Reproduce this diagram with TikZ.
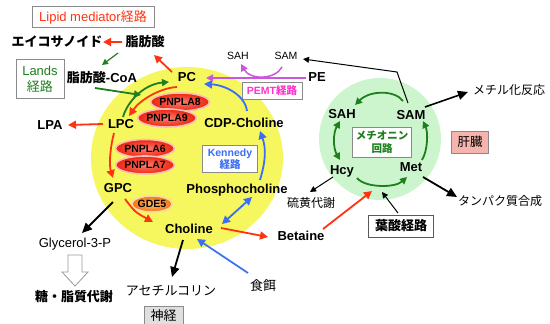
\documentclass[tikz,border=0pt]{standalone}
\usepackage{fontspec}
\setmainfont{Liberation Sans}
\newfontfamily\jpf{Noto Sans CJK JP}
\usetikzlibrary{arrows.meta,shapes.geometric,calc}
\definecolor{redc}{HTML}{FF3311}
\definecolor{grc}{HTML}{1E7F1E}
\definecolor{bluc}{HTML}{3A6EF5}
\definecolor{magc}{HTML}{CC55DD}
\definecolor{pemtc}{HTML}{FF33CC}
\definecolor{yelc}{HTML}{F6F65E}
\definecolor{lgrc}{HTML}{CDF5CD}
\definecolor{pinkc}{HTML}{F5B5AD}
\definecolor{boxc}{HTML}{8A8A8A}
\begin{document}
\begin{tikzpicture}[x=1pt,y=-1pt,
  bl/.style={font=\fontsize{13}{15}\selectfont\bfseries, inner sep=1pt},
  nl/.style={font=\fontsize{12}{14}\selectfont, inner sep=1pt},
  sl/.style={font=\fontsize{10.5}{12}\selectfont, inner sep=1pt},
  gbox/.style={draw=boxc, line width=0.8pt, fill=white, inner sep=1pt, align=center},
  pn/.style={ellipse, draw={rgb,255:red,255;green,190;blue,180}, line width=1.6pt, inner color={rgb,255:red,255;green,125;blue,110}, outer color={rgb,255:red,235;green,35;blue,15}, minimum width=52pt, minimum height=18pt, inner sep=0pt, font=\fontsize{10.5}{11}\selectfont\bfseries},
  ra/.style={draw=redc, line width=1.8pt, -{Triangle[length=8pt,width=8pt]}},
  ga/.style={draw=grc, line width=1.8pt, -{Triangle[length=7pt,width=7pt]}},
  gda/.style={draw=grc, line width=1.8pt, {Triangle[length=7pt,width=7pt]}-{Triangle[length=7pt,width=7pt]}},
  ba/.style={draw=bluc, line width=1.8pt, -{Triangle[length=8pt,width=8pt]}},
  bda/.style={draw=bluc, line width=1.8pt, {Triangle[length=8pt,width=8pt]}-{Triangle[length=8pt,width=8pt]}},
  ma/.style={draw=magc, line width=1.5pt, -{Triangle[length=7pt,width=7pt]}},
  ka/.style={draw=black, line width=1.8pt, -{Triangle[length=10pt,width=9pt]}},
  kt/.style={draw=black, line width=1pt, -{Triangle[length=6pt,width=6pt]}}
]
\useasboundingbox (0,0) rectangle (550,324);
% background circles
\fill[yelc] (187,158) ellipse [x radius=96, y radius=91];
\fill[lgrc] (380,139) circle [radius=61];

% top-left
\node[gbox, minimum width=122pt, minimum height=21pt, text=redc, font=\fontsize{13}{15}\selectfont] (lipid) at (93,17) {Lipid mediator{\jpf 経路}};
\node[bl] (eico) at (57,42) {\jpf エイコサノイド};
\node[bl] (fa) at (145,42) {\jpf 脂肪酸};
\node[gbox, minimum width=48pt, minimum height=39pt, text=grc, font=\fontsize{13}{16}\selectfont] (lands) at (40,79) {Lands\\{\jpf 経路}};
\node[bl] (facoa) at (102,78) {{\jpf 脂肪酸}-CoA};
\node[bl] (pc) at (187,77) {PC};
\node[bl] (pe) at (317,77) {PE};
\node[sl] (sahT) at (238,56) {SAH};
\node[sl] (samT) at (286,56) {SAM};
\node[gbox, minimum width=60pt, minimum height=17pt, text=pemtc, font=\fontsize{10.5}{12}\selectfont\bfseries] (pemt) at (272,91) {PEMT{\jpf 経路}};

% yellow circle content
\node[pn] (pn8) at (180,102) {PNPLA8};
\node[pn] (pn9) at (167,118) {PNPLA9};
\node[pn] (pn6) at (145,148.5) {PNPLA6};
\node[pn] (pn7) at (145,165) {PNPLA7};
\node[ellipse, draw={rgb,255:red,255;green,215;blue,170}, line width=1.6pt, inner color={rgb,255:red,255;green,190;blue,105}, outer color={rgb,255:red,240;green,115;blue,20}, minimum width=39pt, minimum height=16pt, inner sep=0pt, font=\fontsize{10.5}{11}\selectfont\bfseries] (gde5) at (152,204) {GDE5};
\node[bl] (lpc) at (121,124) {LPC};
\node[bl] (lpa) at (50,125) {LPA};
\node[bl] (gpc) at (118,188) {GPC};
\node[bl] (cdp) at (244,123) {CDP-Choline};
\node[gbox, minimum width=55pt, minimum height=27pt, text=bluc, font=\fontsize{10.5}{12}\selectfont\bfseries] (kennedy) at (230,159) {Kennedy\\{\jpf 経路}};
\node[bl] (phos) at (237,190) {Phosphocholine};
\node[bl] (choline) at (189,229) {Choline};
\node[bl] (betaine) at (301,236) {Betaine};

% bottom-left
\node[nl, font=\fontsize{13}{15}\selectfont] (glyc) at (75,244) {Glycerol-3-P};
\node[bl] (tousi) at (74,297) {\jpf 糖・脂質代謝};
\node[nl, font=\fontsize{13}{15}\selectfont] (acetyl) at (171,291) {\jpf アセチルコリン};
\node[draw=boxc, line width=0.8pt, fill=gray!25, minimum width=39pt, minimum height=19pt, inner sep=1pt, font=\fontsize{13}{15}\selectfont] (shinkei) at (163.5,315.5) {\jpf 神経};
\node[nl, font=\fontsize{13}{15}\selectfont] (shokuji) at (263,286) {\jpf 食餌};

% green circle content
\node[bl] (sahG) at (342,114) {SAH};
\node[bl] (samG) at (411,115) {SAM};
\node[bl] (hcy) at (342,171) {Hcy};
\node[bl] (met) at (411,167) {Met};
\node[gbox, minimum width=59pt, minimum height=30pt, text=grc, font=\fontsize{10.5}{13}\selectfont\bfseries] (methbox) at (382,142) {\jpf メチオニン\\\jpf 回路};
\node[draw=boxc, line width=0.8pt, fill=pinkc, minimum width=37pt, minimum height=22pt, inner sep=1pt, font=\fontsize{12.5}{14}\selectfont] (kanzo) at (470,142) {\jpf 肝臓};
\node[nl] (methyl) at (509,90) {\jpf メチル化反応};
\node[nl] (tanpaku) at (500,201) {\jpf タンパク質合成};
\node[nl] (iou) at (311,203) {\jpf 硫黄代謝};
\node[gbox, draw=gray!70!black, minimum width=65pt, minimum height=22pt, font=\fontsize{13}{15}\selectfont\bfseries] (yousan) at (401,226) {\jpf 葉酸経路};

% hollow block arrow
\draw[draw=gray!80, line width=0.8pt, fill=white] ($(glyc)+(-7,11)$) -- ++(14,0) -- ++(0,17) -- ++(6,0) -- ++(-13,14) -- ++(-13,-14) -- ++(6,0) -- cycle;

% connectors
\draw[ra] ($(fa)+(-23,0)$) -- ($(eico)+(46,0)$);
\draw[draw=grc, line width=1.2pt, -{Triangle[length=6pt,width=6pt]}] ($(fa)+(-27,11)$) -- ($(facoa)+(0,-13)$);
\draw[ra] ($(pc)+(-15,-5)$) -- ($(fa)+(9,13)$);
\draw[ga] ($(facoa)+(-7,10)$) -- ($(pc)+(-46,18)$);
\draw[ga] ($(lpc)+(2,-7)$) .. controls (128,100) and (145,84) .. ($(pc)+(-18,5)$);
\draw[ra] ($(pc)+(-10,10)$) .. controls (160,88) and (140,100) .. ($(lpc)+(8,-8)$);
\draw[ra] ($(lpc)+(-18,0)$) -- ($(lpa)+(18,0)$);
\draw[ra] ($(lpc)+(-7,9)$) .. controls (110,148) and (109,165) .. ($(gpc)+(-5,-10)$);
\draw[ra] ($(gpc)+(7,11)$) .. controls (135,212) .. ($(choline)+(-36,-7)$);
\draw[ka] ($(gpc)+(-5,14)$) -- ($(glyc)+(7,-11)$);
\draw[ka] ($(choline)+(-6,11)$) -- ($(acetyl)+(1,-14)$);
\draw[ba] ($(shokuji)+(-15,-13)$) -- ($(choline)+(8,10)$);
\draw[bda] ($(choline)+(33,-5)$) -- ($(phos)+(15,7)$);
\draw[ra] ($(choline)+(32,-1)$) -- ($(betaine)+(-33,1)$);
\draw[ba] ($(phos)+(23,-10)$) .. controls (266,160) and (266,148) .. ($(cdp)+(16,8)$);
\draw[ba] ($(cdp)+(3,-12)$) .. controls (245,95) and (225,85) .. ($(pc)+(17,7)$);
\draw[ma] ($(pe)+(-11,1)$) -- ($(pc)+(19,1)$);
\draw[ma] ($(samT)+(-4,11)$) .. controls (275,80) and (250,80) .. ($(sahT)+(3,8)$);
\coordinate (bend) at (397,72);
\draw[kt] ($(samG)+(-3,-12)$) -- (bend) -- ($(samT)+(17,3)$);
\draw[draw=black, line width=1.6pt, -{Triangle[length=10pt,width=9pt]}] ($(samG)+(14,-8)$) -- ($(methyl)+(-41,2)$);
\draw[ka] ($(met)+(12,10)$) -- ($(tanpaku)+(-43,-4)$);
\draw[kt] ($(hcy)+(-9,6)$) -- ($(iou)+(-1,-11)$);
\draw[kt] ($(yousan)+(-3,-13)$) -- ($(yousan)+(-19,-34)$);
\draw[ra] ($(betaine)+(22,-7)$) -- ($(yousan)+(-29,-35)$);
% methionine cycle
\draw[ga] ($(samG)+(-8,-14)$) .. controls (395,90) and (370,90) .. ($(sahG)+(13,-9)$);
\draw[gda] ($(sahG)+(-2,7)$) .. controls (333,133) and (333,148) .. ($(hcy)+(-2,-11)$);
\draw[ga] ($(hcy)+(15,7)$) .. controls (365,188) and (395,188) .. ($(met)+(-4,10)$);
\draw[ga] ($(met)+(11,-7)$) .. controls (428,150) and (428,132) .. ($(samG)+(12,6)$);
\end{tikzpicture}
\end{document}
